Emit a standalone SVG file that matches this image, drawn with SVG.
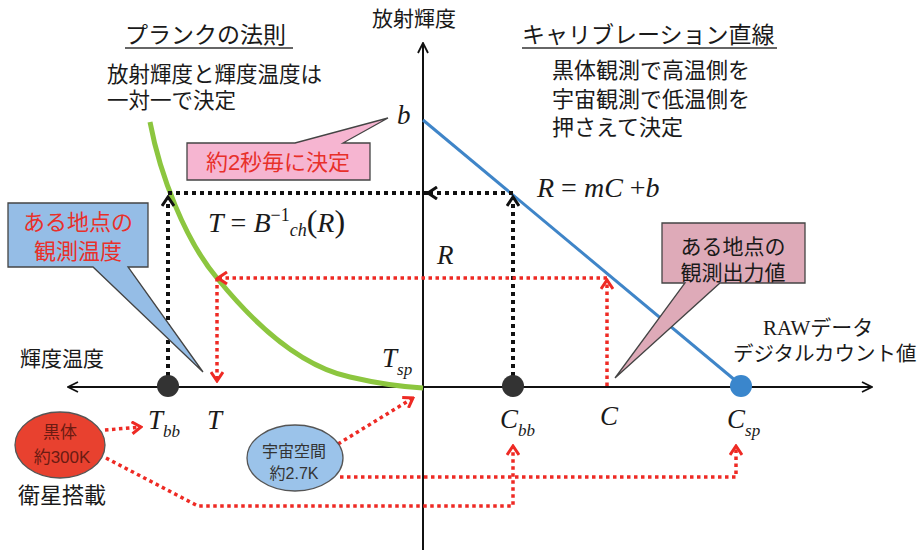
<svg xmlns="http://www.w3.org/2000/svg" width="923" height="553" viewBox="0 0 923 553">
<style>
.jp{font-family:"Liberation Sans","Noto Sans CJK JP",sans-serif;fill:#1a1a1a}
.m{font-family:"Liberation Serif",serif;font-style:italic;fill:#1a1a1a}
.rm{font-family:"Liberation Serif",serif;fill:#1a1a1a}
.red{fill:#e8302a}
.bd{fill:none;stroke:#111;stroke-width:4;stroke-dasharray:4 4}
.rd{fill:none;stroke:#ee2a24;stroke-width:3.5;stroke-dasharray:3.5 3.5}
.co{stroke:#444;stroke-width:1.3}
</style>
<defs>
<marker id="ab" viewBox="0 0 12 14" refX="10" refY="7" markerWidth="12" markerHeight="14" markerUnits="userSpaceOnUse" orient="auto">
<path d="M1,1 L10,7 L1,13" fill="none" stroke="#111" stroke-width="3"/>
</marker>
<marker id="ar" viewBox="0 0 12 14" refX="10" refY="7" markerWidth="12" markerHeight="14" markerUnits="userSpaceOnUse" orient="auto">
<path d="M1,1 L10,7 L1,13" fill="none" stroke="#ee2a24" stroke-width="3"/>
</marker>
<marker id="ax" viewBox="0 0 12 12" refX="11" refY="6" markerWidth="12" markerHeight="12" markerUnits="userSpaceOnUse" orient="auto">
<path d="M1,1 L11,6 L1,11" fill="none" stroke="#111" stroke-width="1.8"/>
</marker>
</defs>
<rect width="923" height="553" fill="#fff"/>

<g id="axes">
<line x1="423" y1="550" x2="423" y2="43" stroke="#111" stroke-width="2" marker-end="url(#ax)"/>
<line x1="100" y1="387" x2="872" y2="387" stroke="#111" stroke-width="2" marker-end="url(#ax)"/>
<line x1="100" y1="387" x2="68" y2="387" stroke="#111" stroke-width="2" marker-end="url(#ax)"/>
<text class="jp" x="372" y="26" font-size="21">放射輝度</text>
<text class="jp" x="20" y="366" font-size="21">輝度温度</text>
<text class="rm" x="763" y="335" font-size="21">RAW<tspan class="jp" font-family="Liberation Sans, Noto Sans CJK JP, sans-serif">データ</tspan></text>
<text class="jp" x="733" y="361" font-size="20.5">デジタルカウント値</text>
</g>

<g id="titles">
<text class="jp" x="125" y="43" font-size="23">プランクの法則</text>
<line x1="125" y1="48" x2="293" y2="48" stroke="#333" stroke-width="1.5"/>
<text class="jp" x="107" y="82" font-size="21.5">放射輝度と輝度温度は</text>
<text class="jp" x="107" y="108" font-size="21.5">一対一で決定</text>
<text class="jp" x="522" y="43" font-size="23">キャリブレーション直線</text>
<line x1="522" y1="48" x2="777" y2="48" stroke="#333" stroke-width="1.5"/>
<text class="jp" x="552" y="78" font-size="22">黒体観測で高温側を</text>
<text class="jp" x="552" y="107" font-size="22">宇宙観測で低温側を</text>
<text class="jp" x="552" y="135" font-size="22">押さえて決定</text>
</g>

<g id="planck-curve">
<path d="M150,122 C160,175 185,240 217,278 C255,325 300,366 350,377 C380,384 405,387 423,388" fill="none" stroke="#8cc63f" stroke-width="5"/>
</g>
<g id="calibration-line">
<line x1="423" y1="120" x2="742" y2="386" stroke="#3f85c8" stroke-width="3"/>
</g>

<g id="connectors">
<path class="bd" d="M168,376 L168,197" marker-end="url(#ab)"/>
<path class="bd" d="M513,376 L513,197" marker-end="url(#ab)"/>
<path class="bd" d="M513,193 L428,193" marker-end="url(#ab)"/>
<path class="bd" d="M428,193 L168,193"/>
<path class="rd" d="M607,386 L607,280" marker-end="url(#ar)"/>
<path class="rd" d="M607,278 L218,278" marker-end="url(#ar)"/>
<path class="rd" d="M217,278 L217,381" marker-end="url(#ar)"/>
<path class="rd" d="M340,477 L736,477 L736,446" marker-end="url(#ar)"/>
<path class="rd" d="M106,458 L198,506 L513,506 L513,446" marker-end="url(#ar)"/>
<path class="rd" d="M105,430 L141,427" marker-end="url(#ar)"/>
<path class="rd" d="M338,444 L413,398" marker-end="url(#ar)"/>
</g>

<g id="points">
<circle cx="168" cy="386" r="11" fill="#333"/>
<circle cx="513" cy="386" r="11" fill="#333"/>
<circle cx="741" cy="386" r="11" fill="#3a86cc"/>
</g>

<g id="math-labels">
<text class="m" x="397" y="124" font-size="27">b</text>
<text class="m" x="537" y="197" font-size="28">R<tspan class="rm" font-style="normal"> = </tspan>mC<tspan class="rm" font-style="normal"> +</tspan>b</text>
<text class="m" x="437" y="264" font-size="27">R</text>
<text class="m" x="208" y="232" font-size="28">T<tspan class="rm" font-style="normal"> = </tspan>B<tspan font-size="18" dy="-11" class="rm" font-style="normal">−1</tspan><tspan font-size="18" dy="15">ch</tspan><tspan class="rm" font-style="normal" dy="-4" font-size="32">(</tspan>R<tspan class="rm" font-style="normal" font-size="32">)</tspan></text>
<text class="m" x="382" y="367" font-size="27">T<tspan font-size="17" dy="8">sp</tspan></text>
<text class="m" x="148" y="429" font-size="27">T<tspan font-size="17" dy="8">bb</tspan></text>
<text class="m" x="207" y="429" font-size="27">T</text>
<text class="m" x="500" y="428" font-size="27">C<tspan font-size="17" dy="8">bb</tspan></text>
<text class="m" x="600" y="425" font-size="27">C</text>
<text class="m" x="727" y="428" font-size="27">C<tspan font-size="17" dy="8">sp</tspan></text>
</g>

<g id="callout-2sec">
<path class="co" d="M187,143 L295,143 L388,118 L343,143 L370,143 L370,180 L187,180 Z" fill="#f6b5d1"/>
<text class="jp red" x="278" y="170" font-size="22" text-anchor="middle">約2秒毎に決定</text>
</g>

<g id="callout-temp">
<path class="co" d="M8,203 L148,203 L148,267 L128,267 L203,372 L93,267 L8,267 Z" fill="#95bde6"/>
<text class="jp red" x="78" y="230" font-size="22" text-anchor="middle">ある地点の</text>
<text class="jp red" x="78" y="259" font-size="22" text-anchor="middle">観測温度</text>
</g>

<g id="callout-output">
<path class="co" d="M662,223 L805,223 L805,283 L720,283 L615,378 L685,283 L662,283 Z" fill="#deaab8"/>
<text class="jp" x="733" y="254" font-size="21" text-anchor="middle">ある地点の</text>
<text class="jp" x="733" y="280" font-size="21" text-anchor="middle">観測出力値</text>
</g>

<g id="blackbody">
<ellipse cx="60" cy="445" rx="45" ry="33" fill="#e8412f" stroke="#555" stroke-width="1.3"/>
<text class="jp" x="60" y="438" font-size="17" text-anchor="middle" style="fill:#6b1b12">黒体</text>
<text class="jp" x="62" y="463" font-size="17" text-anchor="middle" style="fill:#6b1b12">約300K</text>
<text class="jp" x="18" y="503" font-size="22">衛星搭載</text>
</g>

<g id="space">
<ellipse cx="295" cy="458" rx="48" ry="33" fill="#9bc3ea" stroke="#555" stroke-width="1.3"/>
<text class="jp" x="294" y="457" font-size="16" text-anchor="middle" style="fill:#333">宇宙空間</text>
<text class="jp" x="294" y="479" font-size="16" text-anchor="middle" style="fill:#333">約2.7K</text>
</g>
</svg>
